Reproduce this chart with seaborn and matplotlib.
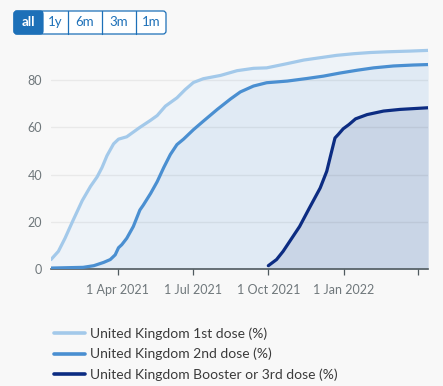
import pandas as pd
import seaborn as sns
import matplotlib.pyplot as plt
from matplotlib.lines import Line2D
from matplotlib.patches import FancyBboxPatch, Rectangle

# Values (percent of population)
first_dates = ['2021-01-10', '2021-01-19', '2021-01-27', '2021-02-05', '2021-02-17', '2021-02-27',
               '2021-03-07', '2021-03-13', '2021-03-19', '2021-03-27', '2021-04-02', '2021-04-12',
               '2021-04-28', '2021-05-11', '2021-05-19', '2021-05-29', '2021-06-12', '2021-06-22',
               '2021-07-02', '2021-07-14', '2021-08-04', '2021-08-24', '2021-09-13', '2021-09-29',
               '2021-10-24', '2021-11-13', '2021-12-03', '2021-12-23', '2022-01-13', '2022-02-02',
               '2022-02-22', '2022-03-22', '2022-04-13']
first_pct = [4.0, 7.5, 13, 20, 29, 35, 39, 43, 48, 53, 55, 56, 60, 63, 65, 69, 72.5, 76,
             79, 80.6, 82, 84, 85, 85.2, 87, 88.5, 89.5, 90.5, 91.2, 91.7, 92, 92.3, 92.6]

second_dates = ['2021-01-10', '2021-02-18', '2021-03-03', '2021-03-15', '2021-03-23', '2021-03-29',
                '2021-04-02', '2021-04-06', '2021-04-12', '2021-04-20', '2021-04-28', '2021-05-02',
                '2021-05-11', '2021-05-19', '2021-05-27', '2021-06-04', '2021-06-12', '2021-06-20',
                '2021-07-02', '2021-07-14', '2021-07-31', '2021-08-16', '2021-08-28', '2021-09-13',
                '2021-09-29', '2021-10-24', '2021-11-17', '2021-12-07', '2021-12-27', '2022-01-17',
                '2022-02-06', '2022-03-02', '2022-03-26', '2022-04-13']
second_pct = [0.4, 0.7, 1.4, 2.8, 4, 6, 9, 10.3, 13, 18, 25, 27, 32, 37, 43, 48.5, 52.7, 55,
              59, 62.6, 67.6, 72, 75, 77.5, 78.9, 79.6, 80.7, 81.7, 83, 84.2, 85.2, 86, 86.4, 86.6]

booster_dates = ['2021-10-01', '2021-10-11', '2021-10-19', '2021-10-27', '2021-11-08', '2021-11-20',
                 '2021-12-03', '2021-12-11', '2021-12-16', '2021-12-21', '2021-12-25', '2021-12-31',
                 '2022-01-07', '2022-01-15', '2022-01-29', '2022-02-18', '2022-03-10', '2022-04-13']
booster_pct = [1.4, 4, 7.5, 11.7, 18, 25.9, 34.3, 41.4, 48.5, 55.5, 57, 59.4,
               61.2, 63.6, 65.4, 66.9, 67.6, 68.3]

labels = ['United Kingdom 1st dose (%)', 'United Kingdom 2nd dose (%)',
          'United Kingdom Booster or 3rd dose (%)']
line_colors = ['#a3c9ea', '#4a8fd1', '#0c2c82']
fill_colors = ['#eef3f8', '#e0eaf4', '#c9d5e6']

tick_dates = ['2021-04-01', '2021-07-01', '2021-10-01', '2022-01-01', '2022-04-01']
tick_labels = ['1 Apr 2021', '1 Jul 2021', '1 Oct 2021', '1 Jan 2022', '']

frames = []
for lab, d, v in zip(labels, [first_dates, second_dates, booster_dates],
                     [first_pct, second_pct, booster_pct]):
    frames.append(pd.DataFrame({'date': pd.to_datetime(d), 'pct': v, 'series': lab}))
df = pd.concat(frames, ignore_index=True)

sns.set_style('white')
plt.rcParams['font.family'] = ['Lato', 'DejaVu Sans']
plt.rcParams['axes.axisbelow'] = 'line'

BG = '#f8f8f8'
BLUE = '#1d70b8'
fig = plt.figure(figsize=(4.43, 3.86), dpi=100, facecolor=BG)
ax = fig.add_axes([51 / 443, 1 - 269 / 386, 377 / 443, 229 / 386])
ax.set_facecolor(BG)

# shaded areas under each line
for lab, fc in zip(labels, fill_colors):
    sub = df[df['series'] == lab]
    ax.fill_between(sub['date'], sub['pct'], 0, color=fc, lw=0, zorder=1)

sns.lineplot(data=df, x='date', y='pct', hue='series', palette=line_colors,
             hue_order=labels, lw=2.3, legend=False, ax=ax, zorder=3)

ax.set_xlim(pd.Timestamp('2021-01-10'), pd.Timestamp('2022-04-13'))
ax.set_ylim(0, 97)
ax.set_yticks([0, 20, 40, 60, 80])
ax.set_xticks(pd.to_datetime(tick_dates))
ax.set_xticklabels(tick_labels)
ax.set_xlabel('')
ax.set_ylabel('')

ax.yaxis.grid(True, color='black', alpha=0.06, lw=1)
ax.xaxis.grid(False)
for s in ['top', 'right', 'left']:
    ax.spines[s].set_visible(False)
ax.spines['bottom'].set_color('#505a5f')
ax.spines['bottom'].set_linewidth(1.2)
ax.tick_params(axis='x', length=4.5, width=0.9, color='#505a5f', pad=6,
               labelsize=9, labelcolor='#6f777b', direction='out', bottom=True)
ax.tick_params(axis='y', length=0, pad=6.5, labelsize=9, labelcolor='#6f777b')

# legend below the chart
handles = [Line2D([0], [0], color=c, lw=2.6) for c in line_colors]
fig.legend(handles, labels, loc='upper left', bbox_to_anchor=(54 / 443, 1 - 327 / 386),
           frameon=False, fontsize=10, handlelength=2.2, handletextpad=0.4,
           labelspacing=0.6, borderpad=0, borderaxespad=0, labelcolor='#3b3b3b')

# range selector buttons
tr = fig.dpi_scale_trans
H = 3.86
edges = [14, 43, 68, 102, 136, 166]
names = ['all', '1y', '6m', '3m', '1m']
y0, y1 = 11, 34
fig.add_artist(FancyBboxPatch((edges[0] / 100, H - y1 / 100), (edges[-1] - edges[0]) / 100,
                              (y1 - y0) / 100, boxstyle='round,pad=0,rounding_size=0.03',
                              fc='white', ec=BLUE, lw=0.9, transform=tr))
fig.add_artist(FancyBboxPatch((edges[0] / 100, H - y1 / 100), (edges[1] - edges[0]) / 100,
                              (y1 - y0) / 100, boxstyle='round,pad=0,rounding_size=0.03',
                              fc=BLUE, ec=BLUE, lw=0.9, transform=tr))
fig.add_artist(Rectangle(((edges[1] - 5) / 100, H - y1 / 100), 0.05, (y1 - y0) / 100,
                         fc=BLUE, ec='none', transform=tr))
for x in edges[2:-1]:
    fig.add_artist(Line2D([x / 100, x / 100], [H - y1 / 100, H - y0 / 100], color=BLUE,
                          lw=0.9, transform=tr))
for i, n in enumerate(names):
    cx = (edges[i] + edges[i + 1]) / 200
    fig.text(cx, H - (y0 + y1) / 200, n, transform=tr, ha='center', va='center',
             fontsize=9.5, color='white' if i == 0 else BLUE,
             fontweight='bold' if i == 0 else 'normal')

fig.savefig('out.png', dpi=100, facecolor=BG)
